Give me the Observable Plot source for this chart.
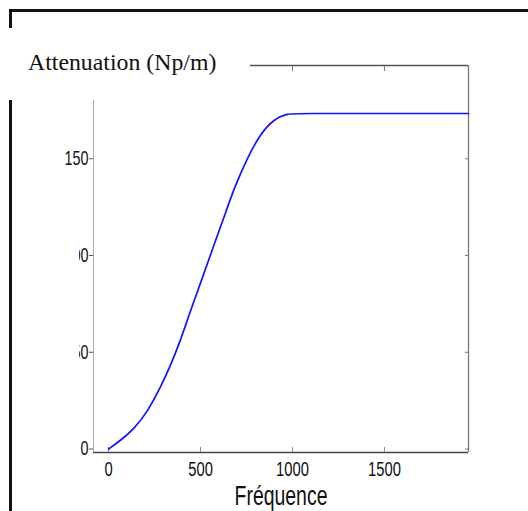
<!DOCTYPE html>
<html>
<head>
<meta charset="utf-8">
<script src="https://cdn.jsdelivr.net/npm/d3@7"></script>
<script src="https://cdn.jsdelivr.net/npm/@observablehq/plot@0.6"></script>
<style>
  html, body { margin: 0; padding: 0; background: #fff; }
  #wrap { position: relative; width: 528px; height: 511px; overflow: hidden; background: #fff; }
  #wrap svg { position: absolute; left: 0; top: 0; overflow: visible; }
  .mask { position: absolute; background: #fff; }
  .bl { position: absolute; background: #111; }
  #title { position: absolute; left: 28px; top: 49px; font-family: "Liberation Serif", "Times New Roman", serif; font-size: 23.8px; line-height: 1.15; color: #111; white-space: nowrap; }
</style>
</head>
<body>
<div id="wrap"></div>
<script>
// Data
const freq  = [0, 65, 138, 210, 283, 337, 391, 446, 518, 572, 641, 681, 754, 826, 898, 971, 1043, 1500, 1957];
const atten = [0, 4.4, 10.4, 19.0, 32.0, 43.2, 56.1, 71.6, 90.6, 105.2, 123.3, 134.4, 150.4, 163.0, 170.4, 173.4, 173.4, 173.4, 173.4];
const xTicks = [0, 500, 1000, 1500];
const xTopTicks = [1000, 1500];
const yTicks = [0, 50, 100, 150];
const xDomain = [-82, 1957];
const yDomain = [-1.8, 198.2];
const titleText = "Attenuation (Np/m)";
const xLabel = "Fréquence";

const data = freq.map((f, i) => ({f, a: atten[i]}));
const sans = "'Liberation Sans', Arial, sans-serif";

const chart = Plot.plot({
  width: 528,
  height: 511,
  marginLeft: 93,
  marginRight: 60,
  marginTop: 65,
  marginBottom: 59,
  style: {fontFamily: sans, background: "transparent"},
  x: {domain: xDomain},
  y: {domain: yDomain},
  marks: [
    Plot.ruleX([xDomain[0]], {stroke: "#aaa", strokeWidth: 1}),
    Plot.ruleX([xDomain[1]], {stroke: "#777", strokeWidth: 1.3}),
    Plot.ruleY([yDomain[1]], {stroke: "#555", strokeWidth: 1.3}),
    Plot.ruleY([yDomain[0]], {stroke: "#444", strokeWidth: 1.5}),
    Plot.axisY(yTicks, {anchor: "left", tickSize: 4, tickPadding: 1, fontSize: 20, stroke: "#555", color: "#111", tickFormat: d3.format("d"), label: null}),
    Plot.axisY(yTicks, {anchor: "right", tickSize: -4, tickFormat: () => "", stroke: "#777", label: null}),
    Plot.axisX(xTicks, {anchor: "bottom", tickSize: -5, tickPadding: 14, fontSize: 20.5, stroke: "#888", color: "#111", tickFormat: d3.format("d"), label: null}),
    Plot.axisX(xTopTicks, {anchor: "top", tickSize: -5, tickFormat: () => "", stroke: "#777", label: null}),
    Plot.text([xLabel], {frameAnchor: "bottom", dy: 52, fontSize: 27, fill: "#111", fontFamily: sans}),
    Plot.line(data, {x: "f", y: "a", stroke: "#1212ff", strokeWidth: 1.7, curve: "basis"})
  ]
});
const wrap = document.getElementById("wrap");
wrap.appendChild(chart);

// condensed look of the original labels (Arial Narrow-like)
chart.querySelectorAll("text").forEach(t => {
  const tr = t.getAttribute("transform") || "";
  t.setAttribute("transform", tr + " scale(0.72,1)");
});

function box(cls, l, t, w, h) {
  const d = document.createElement("div");
  d.className = cls;
  Object.assign(d.style, {left: l + "px", top: t + "px", width: w + "px", height: h + "px"});
  wrap.appendChild(d);
}
// white masks (clipped areas of the original)
box("mask", 0, 28, 250, 72);
box("mask", 13, 200, 66, 220);
// black frame fragments
box("bl", 9, 9, 519, 2.5);
box("bl", 9, 9, 2.5, 19);
box("bl", 9, 100, 2.5, 411);
const t = document.createElement("div");
t.id = "title";
t.textContent = titleText;
wrap.appendChild(t);
</script>
</body>
</html>
